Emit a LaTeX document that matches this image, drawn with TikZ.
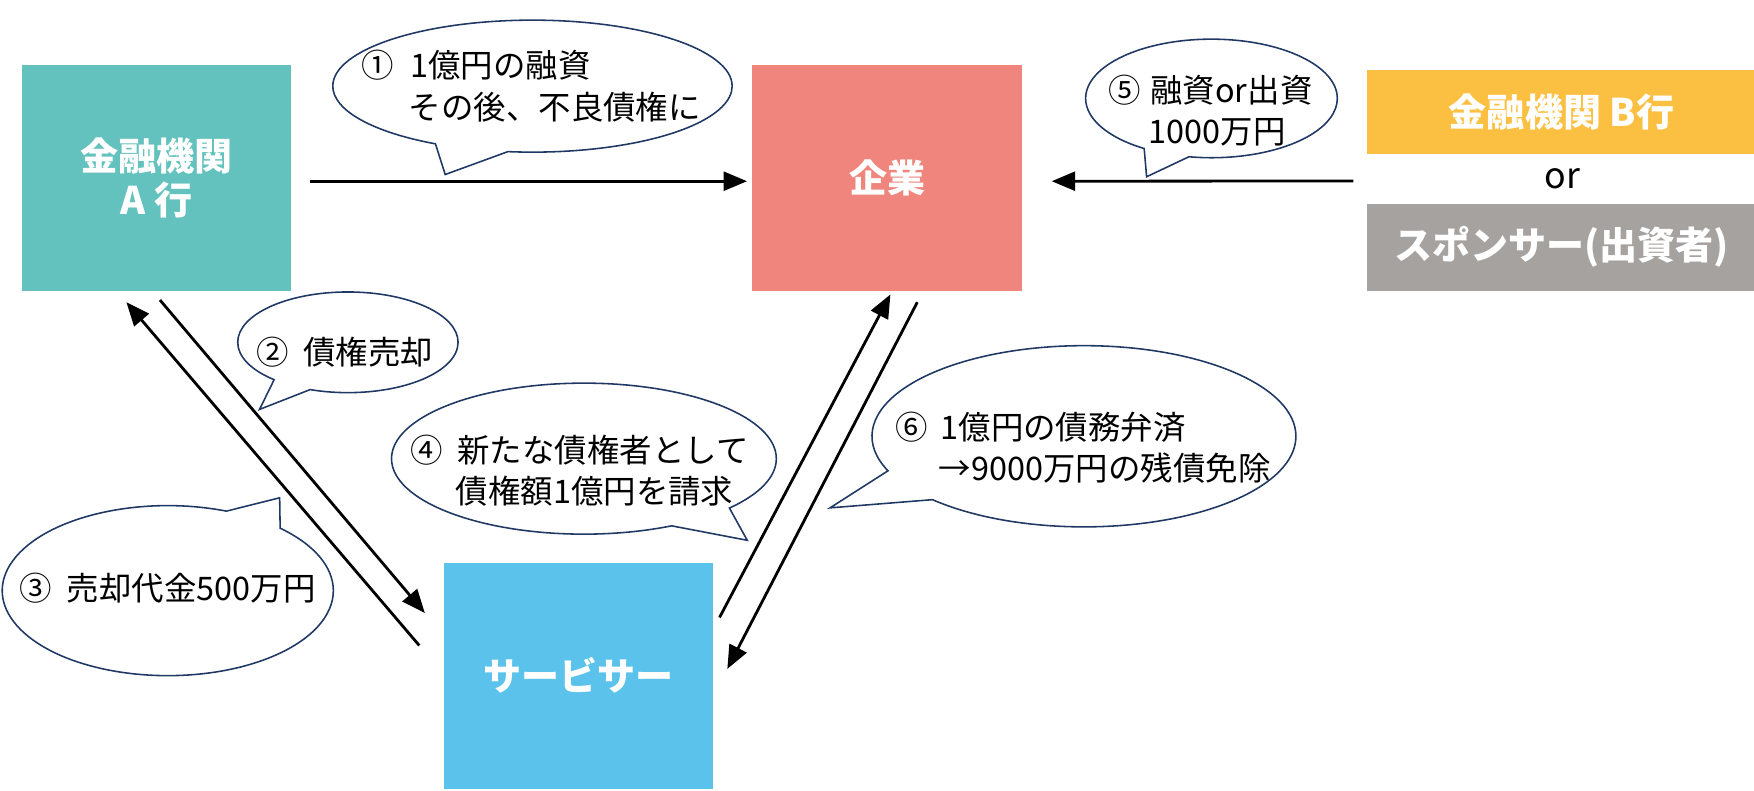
\documentclass[tikz,border=0pt]{standalone}
\usepackage{fontspec}
\setmainfont{Noto Sans CJK JP}
\usetikzlibrary{arrows.meta,shapes.callouts,calc}

\definecolor{tealA}{HTML}{63C1BE}
\definecolor{salmon}{HTML}{F0857D}
\definecolor{sunny}{HTML}{FBC042}
\definecolor{stone}{HTML}{A6A29F}
\definecolor{skyblue}{HTML}{5BC3EB}
\definecolor{navy}{HTML}{203864}

\begin{document}
\begin{tikzpicture}[x=1pt,y=-1pt,>={Triangle[length=21pt,width=17pt]},flow/.style={->,line width=2.5pt}]
        \tikzstyle{box}=[rectangle, inner sep=0pt, align=center, text=white,
          font=\bfseries\fontsize{34}{40}\selectfont]
        \tikzstyle{bubble}=[ellipse callout, draw=navy, line width=1.4pt, fill=white,
          inner sep=0pt, callout pointer arc=22]
        \tikzstyle{bubtext}=[inner sep=0pt, align=left, font=\fontsize{29}{37}\selectfont]

        \useasboundingbox (0,0) rectangle (1568,707);

        \node[box, fill=tealA, minimum width=240pt, minimum height=202pt]   (bankA)    at (140,159)  {金融機関\\A 行};
        \node[box, fill=salmon, minimum width=242pt, minimum height=202pt]  (firm)     at (793,159)  {企業};
        \node[box, fill=skyblue, minimum width=240pt, minimum height=202pt] (servicer) at (517,604)  {サービサー};
        \node[box, fill=sunny, minimum width=348pt, minimum height=75pt]    (bankB)    at (1396,100) {金融機関 B行};
        \node[box, fill=stone, minimum width=348pt, minimum height=78pt]    (sponsor)  at (1396,221) {スポンサー(出資者)};
        \node[font=\fontsize{32}{38}\selectfont] (or) at (1397,160) {or};

        % connector ends
        \coordinate (loanS)  at ($(bankA.east)+(17,3)$);
        \coordinate (loanE)  at ($(firm.west)+(-4,3)$);
        \coordinate (fundS)  at ($(sponsor.north west)+(-12,-20)$);
        \coordinate (fundE)  at ($(firm.east)+(26,3)$);
        \coordinate (sellS)  at ($(bankA.south)+(3,8)$);
        \coordinate (sellE)  at ($(servicer.west)+(-17,-56)$);
        \coordinate (payS)   at ($(servicer.west)+(-22,-27)$);
        \coordinate (payE)   at ($(bankA.south)+(-27,10)$);
        \coordinate (claimS) at ($(servicer.east)+(6,-52)$);
        \coordinate (claimE) at ($(firm.south)+(3,3)$);
        \coordinate (repayS) at ($(firm.south)+(27,10)$);
        \coordinate (repayE) at ($(servicer.east)+(13,-6)$);

        \draw[flow] (loanS)  -- (loanE);
        \draw[flow] (fundS)  -- (fundE);
        \draw[flow] (sellS)  -- (sellE);
        \draw[flow] (payS)   -- (payE);
        \draw[flow] (claimS) -- (claimE);
        \draw[flow] (repayS) -- (repayE);

        % speech bubbles
        \node[bubble, minimum width=357pt, minimum height=118pt, callout absolute pointer={(398,156)}] (b1) at (476,77) {};
        \node[bubble, minimum width=197pt, minimum height=90pt, callout absolute pointer={(232,366)}]  (b2) at (311,306) {};
        \node[bubble, minimum width=296pt, minimum height=152pt, callout absolute pointer={(250,445)}] (b3) at (150,528) {};
        \node[bubble, minimum width=344pt, minimum height=135pt, callout absolute pointer={(668,483)}] (b4) at (522,410) {};
        \node[bubble, minimum width=225pt, minimum height=106pt, callout absolute pointer={(1025,158)}] (b5) at (1083,88) {};
        \node[bubble, minimum width=379pt, minimum height=162pt, callout absolute pointer={(742,454)}] (b6) at (969,390) {};

        \node[bubtext] (t1) at ($(b1)+(-1,0)$)  {①\hspace{0.5em}1億円の融資\\\hspace*{1.45em}その後、不良債権に};
        \node[bubtext] (t2) at ($(b2)+(-3,9)$)  {②\hspace{0.45em}債権売却};
        \node[bubtext] (t3) at ($(b3)+(0,-2)$)  {③\hspace{0.45em}売却代金500万円};
        \node[bubtext] (t4) at ($(b4)+(-4,11)$) {④\hspace{0.45em}新たな債権者として\\\hspace*{1.4em}債権額1億円を請求};
        \node[bubtext] (t5) at ($(b5)+(-1,11)$) {⑤\hspace{0.3em}融資or出資\\\hspace*{1.25em}1000万円};
        \node[bubtext] (t6) at ($(b6)+(-1,10)$) {⑥\hspace{0.4em}1億円の債務弁済\\\hspace*{1.35em}→9000万円の残債免除};
\end{tikzpicture}
\end{document}
